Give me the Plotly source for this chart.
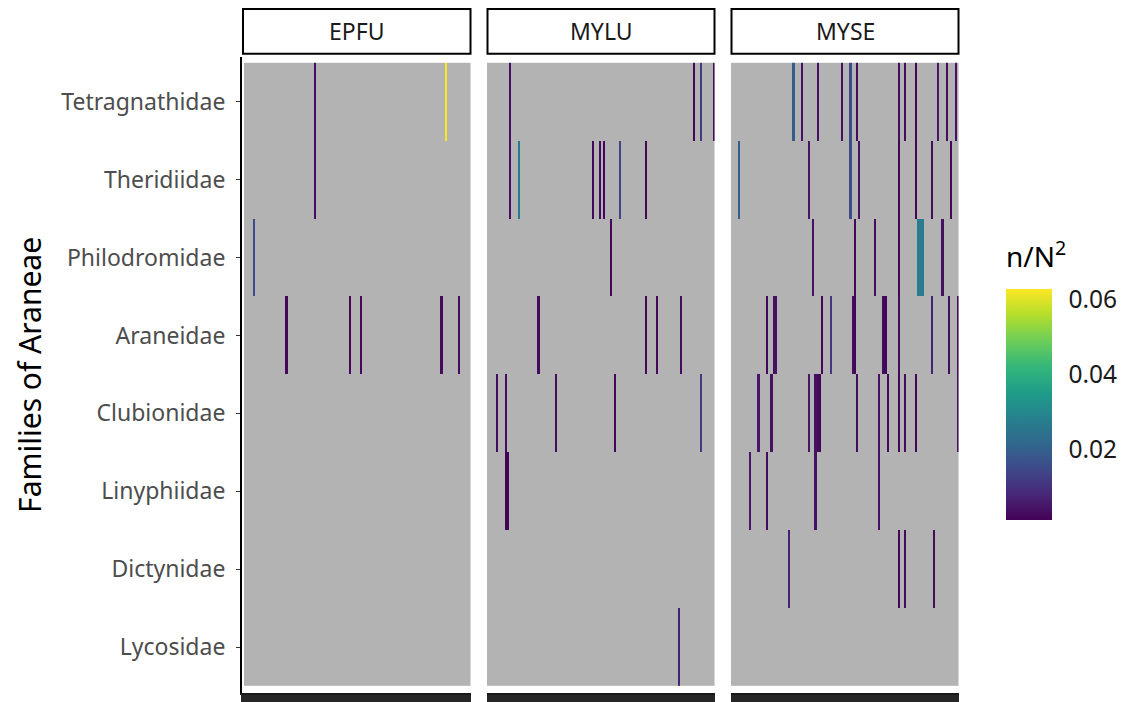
import numpy as np
import plotly.graph_objects as go

W, H = 1126, 702
FONT = "Noto Sans"

families = ["Tetragnathidae", "Theridiidae", "Philodromidae", "Araneidae",
            "Clubionidae", "Linyphiidae", "Dictynidae", "Lycosidae"]
bats = ["EPFU", "MYLU", "MYSE"]
n_samples = {"EPFU": 104, "MYLU": 104, "MYSE": 104}

# ---- data: (family, sample index, n/N^2) per bat species ----
EPFU_family = ["Tetragnathidae", "Theridiidae", "Tetragnathidae", "Philodromidae",
               "Araneidae", "Araneidae", "Araneidae", "Araneidae", "Araneidae"]
EPFU_sample = [32, 32, 92, 4, 19, 48, 53, 90, 98]
EPFU_value = [0.0035, 0.0035, 0.0627, 0.0150, 0.0022, 0.0020, 0.0022, 0.0028, 0.0030]

MYLU_family = (["Tetragnathidae"] * 4 + ["Theridiidae"] * 7 + ["Philodromidae"] +
               ["Araneidae"] * 4 + ["Clubionidae"] * 5 + ["Linyphiidae"] * 2 + ["Lycosidae"])
MYLU_sample = [10, 94, 97, 103,
               10, 14, 48, 51, 53, 60, 72,
               56,
               23, 72, 77, 88,
               4, 8, 31, 58, 97,
               8, 9,
               87]
MYLU_value = [0.0040, 0.0020, 0.0120, 0.0030,
              0.0040, 0.0260, 0.0020, 0.0030, 0.0020, 0.0140, 0.0020,
              0.0020,
              0.0030, 0.0020, 0.0020, 0.0030,
              0.0030, 0.0030, 0.0030, 0.0020, 0.0120,
              0.0015, 0.0015,
              0.0070]

MYSE_family = (["Tetragnathidae"] * 12 + ["Theridiidae"] * 8 + ["Philodromidae"] * 8 +
               ["Araneidae"] * 13 + ["Clubionidae"] * 13 + ["Linyphiidae"] * 4 +
               ["Dictynidae"] * 4)
MYSE_sample = [28, 32, 39, 50, 54, 57, 76, 79, 84, 94, 98, 102,
               3, 35, 54, 58, 76, 84, 91, 100,
               37, 56, 65, 76, 85, 86, 87, 96,
               16, 19, 20, 41, 45, 55, 56, 69, 70, 76, 91, 99, 103,
               12, 18, 35, 38, 39, 40, 57, 67, 71, 76, 79, 84, 103,
               8, 16, 38, 67,
               26, 76, 79, 92]
MYSE_value = [0.0190, 0.0040, 0.0040, 0.0040, 0.0150, 0.0030, 0.0030, 0.0030, 0.0020, 0.0050, 0.0030, 0.0040,
              0.0190, 0.0050, 0.0150, 0.0040, 0.0020, 0.0020, 0.0030, 0.0020,
              0.0040, 0.0020, 0.0030, 0.0020, 0.0270, 0.0270, 0.0270, 0.0040,
              0.0020, 0.0040, 0.0040, 0.0020, 0.0110, 0.0030, 0.0020, 0.0030, 0.0020, 0.0030, 0.0070, 0.0030, 0.0030,
              0.0050, 0.0040, 0.0050, 0.0040, 0.0030, 0.0020, 0.0030, 0.0040, 0.0030, 0.0020, 0.0030, 0.0020, 0.0040,
              0.0050, 0.0030, 0.0040, 0.0040,
              0.0070, 0.0020, 0.0030, 0.0030]

data = {
    "EPFU": (EPFU_family, EPFU_sample, EPFU_value),
    "MYLU": (MYLU_family, MYLU_sample, MYLU_value),
    "MYSE": (MYSE_family, MYSE_sample, MYSE_value),
}

ZMIN, ZMAX = 0.0012, 0.0627
GREY = "#b3b3b3"

# panel geometry in pixels: (axis domain left/right, tile area left/right)
panel_px = {"EPFU": (242, 470.5, 244, 470.5),
            "MYLU": (486.5, 714.5, 487, 714.5),
            "MYSE": (730.5, 958.5, 731, 958.5)}
Y_TOP, Y_BOT = 57, 695          # y domain (px from top)
T_TOP, T_BOT = 63, 688          # tile area

fig = go.Figure()
for i, bat in enumerate(bats, start=1):
    fam, smp, val = data[bat]
    N = n_samples[bat]
    z = np.full((len(families), N), np.nan)
    for f, s, v in zip(fam, smp, val):
        z[families.index(f), s] = v
    xs = list(range(N))
    ax = "" if i == 1 else str(i)
    fig.add_trace(go.Heatmap(z=np.zeros((len(families), N)), x=xs, y=families,
                             colorscale=[[0, GREY], [1, GREY]], showscale=False,
                             hoverinfo="skip", xaxis="x" + ax, yaxis="y" + ax))
    fig.add_trace(go.Heatmap(z=z, x=xs, y=families, coloraxis="coloraxis",
                             hoverongaps=False, xaxis="x" + ax, yaxis="y" + ax))

    d0, d1, g0, g1 = panel_px[bat]
    w = (g1 - g0) / N
    xr = [-0.5 - (g0 - d0) / w, N - 0.5 + (d1 - g1) / w]
    rowh = (T_BOT - T_TOP) / len(families)
    yr = [len(families) - 0.5 + (Y_BOT - T_BOT) / rowh, -0.5 - (T_TOP - Y_TOP) / rowh]

    fig.update_layout(**{
        "xaxis" + ax: dict(domain=[d0 / W, d1 / W], range=xr, showline=True,
                           linecolor="#1a1a1a", linewidth=1.5, ticks="outside",
                           ticklen=9, tickwidth=3, tickcolor="#262626",
                           tick0=0, dtick=1, showticklabels=False, showgrid=False,
                           zeroline=False, anchor="y" + ax),
        "yaxis" + ax: dict(domain=[1 - Y_BOT / H, 1 - Y_TOP / H], range=yr,
                           type="category", categoryorder="array", categoryarray=families,
                           showline=(i == 1), linecolor="#000000", linewidth=2,
                           ticks="outside" if i == 1 else "", ticklen=4, tickwidth=1.2,
                           tickcolor="#333333", showticklabels=(i == 1),
                           tickfont=dict(family=FONT, size=23, color="#4d4d4d"),
                           ticklabelstandoff=6,
                           showgrid=False, zeroline=False, anchor="x" + ax),
    })

    # facet strip
    fig.add_shape(type="rect", xref="paper", yref="paper",
                  x0=(d0 + 1) / W, x1=d1 / W, y0=1 - 54 / H, y1=1 - 9 / H,
                  line=dict(color="#000000", width=2), fillcolor="white", layer="above")
    fig.add_annotation(x=(d0 + 1 + d1) / 2 / W, y=1 - 31.5 / H, xref="paper", yref="paper",
                       text=bat, showarrow=False, xanchor="center", yanchor="middle",
                       font=dict(family=FONT, size=23, color="#1a1a1a"))

fig.add_annotation(x=30 / W, y=1 - 376 / H, xref="paper", yref="paper",
                   text="Families of Araneae", textangle=-90, showarrow=False,
                   xanchor="center", yanchor="middle",
                   font=dict(family=FONT, size=30, color="#000000"))
fig.add_annotation(x=1004 / W, y=1 - 255 / H, xref="paper", yref="paper",
                   text="n/N<sup>2</sup>", showarrow=False, xanchor="left", yanchor="middle",
                   font=dict(family=FONT, size=28, color="#000000"))

fig.update_layout(
    width=W, height=H,
    margin=dict(l=0, r=0, t=0, b=0),
    paper_bgcolor="white", plot_bgcolor="white",
    coloraxis=dict(colorscale="Viridis", cmin=ZMIN, cmax=ZMAX,
                   colorbar=dict(thickness=46, thicknessmode="pixels",
                                 len=231, lenmode="pixels",
                                 x=1006 / W, xanchor="left", y=1 - 405.5 / H, yanchor="middle",
                                 xpad=0, ypad=0, outlinewidth=0,
                                 tickvals=[0.02, 0.04, 0.06], ticktext=["0.02", "0.04", "0.06"],
                                 ticks="outside", ticklen=12, tickcolor="rgba(0,0,0,0)",
                                 tickfont=dict(family=FONT, size=24.5, color="#1a1a1a"))),
    showlegend=False,
)

fig.write_html("out.html")
